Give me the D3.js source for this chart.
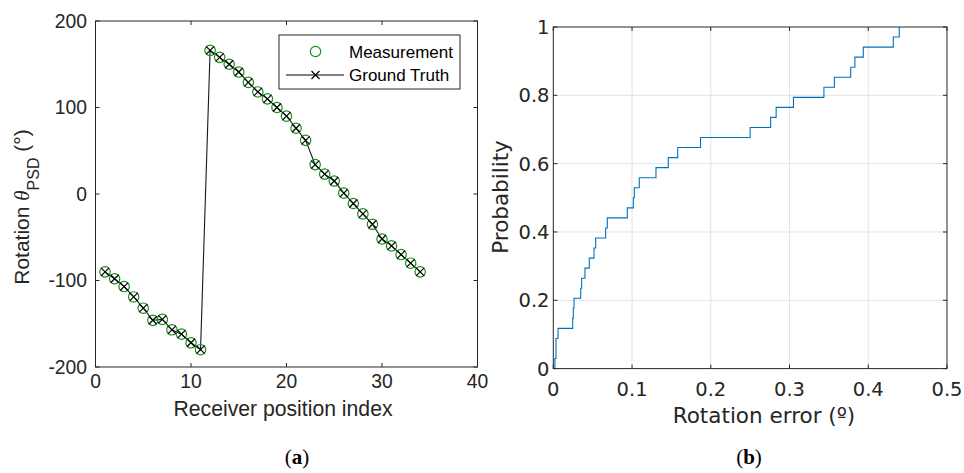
<!DOCTYPE html>
<html><head><meta charset="utf-8">
<script src="https://cdn.jsdelivr.net/npm/d3@7"></script>
<style>html,body{margin:0;padding:0;background:#fff;}svg{display:block;}</style>
</head><body>
<svg id="c" width="964" height="473"></svg>
<script>
// ---- data ----
const receiverIndex = [1,2,3,4,5,6,7,8,9,10,11,12,13,14,15,16,17,18,19,20,21,22,23,24,25,26,27,28,29,30,31,32,33,34];
const measurement = [-90,-98,-107,-119,-132,-146,-145,-157,-162,-172,-180,166,158,150,141,129,118,110,100,90,76,62,34,23,15,1,-11,-23,-35,-52,-60,-70,-80,-90];
const groundTruth = [-90,-98,-107,-119,-132,-146,-145,-157,-162,-172,-180,166,158,150,141,129,118,110,100,90,76,62,34,23,15,1,-11,-23,-35,-52,-60,-70,-80,-90];
const rotationErrors = [0.002,0.0034,0.0034,0.006,0.0246,0.0254,0.0263,0.0348,0.036,0.0402,0.0457,0.0517,0.0538,0.0665,0.0686,0.094,0.1016,0.1029,0.1092,0.1304,0.146,0.158,0.187,0.250,0.276,0.283,0.305,0.3437,0.357,0.3777,0.383,0.3937,0.4318,0.4394];
const leftXTicks = [0,10,20,30,40];
const leftYTicks = [-200,-100,0,100,200];
const rightXTicks = [0,0.1,0.2,0.3,0.4,0.5];
const rightYTicks = [0,0.2,0.4,0.6,0.8,1];
const legendLabels = ["Measurement","Ground Truth"];

const svg = d3.select("#c");
const axisCol = "#262626";
const sansA = "'Liberation Sans', Arial, sans-serif";
const sansB = "'DejaVu Sans', Verdana, sans-serif";

// ---- left panel ----
const xL = d3.scaleLinear().domain([0,40]).range([95.5,477.5]);
const yL = d3.scaleLinear().domain([-200,200]).range([367,21]);
const gL = svg.append("g");
gL.append("rect").attr("x",xL(0)).attr("y",yL(200)).attr("width",xL(40)-xL(0)).attr("height",yL(-200)-yL(200))
  .attr("fill","none").attr("stroke",axisCol).attr("stroke-width",1);
const tk = 4;
leftXTicks.forEach(v=>{
  gL.append("line").attr("x1",xL(v)).attr("x2",xL(v)).attr("y1",yL(-200)).attr("y2",yL(-200)-tk).attr("stroke",axisCol);
  gL.append("line").attr("x1",xL(v)).attr("x2",xL(v)).attr("y1",yL(200)).attr("y2",yL(200)+tk).attr("stroke",axisCol);
  gL.append("text").attr("x",xL(v)).attr("y",387.5).attr("text-anchor","middle").attr("font-family",sansA).attr("font-size",19.3).attr("fill",axisCol).text(v);
});
leftYTicks.forEach(v=>{
  gL.append("line").attr("x1",xL(0)).attr("x2",xL(0)+tk).attr("y1",yL(v)).attr("y2",yL(v)).attr("stroke",axisCol);
  gL.append("line").attr("x1",xL(40)).attr("x2",xL(40)-tk).attr("y1",yL(v)).attr("y2",yL(v)).attr("stroke",axisCol);
  gL.append("text").attr("x",87).attr("y",yL(v)+6.5).attr("text-anchor","end").attr("font-family",sansA).attr("font-size",19.3).attr("fill",axisCol).text(v);
});
const lineL = d3.line().x((d,i)=>xL(receiverIndex[i])).y(d=>yL(d));
gL.append("path").attr("d",lineL(groundTruth)).attr("fill","none").attr("stroke","#0a1a28").attr("stroke-width",1.1);
gL.selectAll("circle.m").data(measurement).enter().append("circle")
  .attr("cx",(d,i)=>xL(receiverIndex[i])).attr("cy",d=>yL(d)).attr("r",5.2)
  .attr("fill","none").attr("stroke","#1a8f1a").attr("stroke-width",1.2);
const xm = 4;
groundTruth.forEach((d,i)=>{
  const cx = xL(receiverIndex[i]), cy = yL(d);
  gL.append("path").attr("d",`M${cx-xm},${cy-xm}L${cx+xm},${cy+xm}M${cx-xm},${cy+xm}L${cx+xm},${cy-xm}`)
    .attr("stroke","#000").attr("stroke-width",1.2);
});
// legend
const lg = gL.append("g");
lg.append("rect").attr("x",279).attr("y",35).attr("width",181).attr("height",54).attr("fill","#fff").attr("stroke",axisCol).attr("stroke-width",1);
lg.append("circle").attr("cx",315.5).attr("cy",51.5).attr("r",5.2).attr("fill","none").attr("stroke","#1a8f1a").attr("stroke-width",1.2);
lg.append("line").attr("x1",286).attr("x2",344).attr("y1",75).attr("y2",75).attr("stroke","#000").attr("stroke-width",1);
lg.append("path").attr("d",`M${315.5-xm},${75-xm}L${315.5+xm},${75+xm}M${315.5-xm},${75+xm}L${315.5+xm},${75-xm}`).attr("stroke","#000").attr("stroke-width",1.2);
lg.append("text").attr("x",349).attr("y",57.5).attr("font-family",sansA).attr("font-size",17).attr("fill","#000").text(legendLabels[0]);
lg.append("text").attr("x",349).attr("y",81).attr("font-family",sansA).attr("font-size",17).attr("fill","#000").text(legendLabels[1]);
// labels
gL.append("text").attr("x",283).attr("y",415.5).attr("text-anchor","middle").attr("font-family",sansA).attr("font-size",21.2).attr("fill",axisCol).text("Receiver position index");
const yl = gL.append("text").attr("transform","translate(28.5,207) rotate(-90)").attr("text-anchor","middle").attr("font-family",sansA).attr("font-size",21).attr("fill",axisCol);
yl.append("tspan").text("Rotation ");
yl.append("tspan").attr("font-family","'Liberation Serif', 'Times New Roman', serif").attr("font-style","italic").text("θ");
yl.append("tspan").attr("font-size",16).attr("dy",10).text("PSD");
yl.append("tspan").attr("dy",-10).text(" (°)");

// ---- right panel ----
const xR = d3.scaleLinear().domain([0,0.5]).range([553.3,947]);
const yR = d3.scaleLinear().domain([0,1]).range([368.6,27]);
const gR = svg.append("g");
rightXTicks.slice(1,-1).forEach(v=>{
  gR.append("line").attr("x1",xR(v)).attr("x2",xR(v)).attr("y1",yR(0)).attr("y2",yR(1)).attr("stroke","#e3e3e3").attr("stroke-width",1);
});
rightYTicks.slice(1,-1).forEach(v=>{
  gR.append("line").attr("x1",xR(0)).attr("x2",xR(0.5)).attr("y1",yR(v)).attr("y2",yR(v)).attr("stroke","#e3e3e3").attr("stroke-width",1);
});
const n = rotationErrors.length;
const pts = [[rotationErrors[0],0]].concat(rotationErrors.map((e,i)=>[e,(i+1)/n]));
const lineR = d3.line().x(d=>xR(d[0])).y(d=>yR(d[1])).curve(d3.curveStepAfter);
gR.append("path").attr("d",lineR(pts)).attr("fill","none").attr("stroke","#0072BD").attr("stroke-width",1.1);
gR.append("rect").attr("x",xR(0)).attr("y",yR(1)).attr("width",xR(0.5)-xR(0)).attr("height",yR(0)-yR(1))
  .attr("fill","none").attr("stroke",axisCol).attr("stroke-width",1);
rightXTicks.forEach(v=>{
  gR.append("line").attr("x1",xR(v)).attr("x2",xR(v)).attr("y1",yR(0)).attr("y2",yR(0)-tk).attr("stroke",axisCol);
  gR.append("line").attr("x1",xR(v)).attr("x2",xR(v)).attr("y1",yR(1)).attr("y2",yR(1)+tk).attr("stroke",axisCol);
  gR.append("text").attr("x",xR(v)).attr("y",396).attr("text-anchor","middle").attr("font-family",sansB).attr("font-size",19.5).attr("fill",axisCol).text(v);
});
rightYTicks.forEach(v=>{
  gR.append("line").attr("x1",xR(0)).attr("x2",xR(0)+tk).attr("y1",yR(v)).attr("y2",yR(v)).attr("stroke",axisCol);
  gR.append("line").attr("x1",xR(0.5)).attr("x2",xR(0.5)-tk).attr("y1",yR(v)).attr("y2",yR(v)).attr("stroke",axisCol);
  gR.append("text").attr("x",549.5).attr("y",yR(v)+7).attr("text-anchor","end").attr("font-family",sansB).attr("font-size",19.5).attr("fill",axisCol).text(v);
});
gR.append("text").attr("x",764).attr("y",423).attr("text-anchor","middle").attr("font-family",sansB).attr("font-size",21.5).attr("fill",axisCol).text("Rotation error (º)");
gR.append("text").attr("transform","translate(508,197) rotate(-90)").attr("text-anchor","middle").attr("font-family",sansB).attr("font-size",21.5).attr("fill",axisCol).text("Probability");

// ---- subfigure captions ----
const serif = "'Liberation Serif', 'DejaVu Serif', serif";
function cap(x, letter){
  const t = svg.append("text").attr("x",x).attr("y",464).attr("text-anchor","middle").attr("font-family",serif).attr("font-size",21).attr("fill","#000");
  t.append("tspan").text("(");
  t.append("tspan").attr("font-weight","bold").text(letter);
  t.append("tspan").text(")");
}
cap(297,"a");
cap(749,"b");
</script>
</body></html>
